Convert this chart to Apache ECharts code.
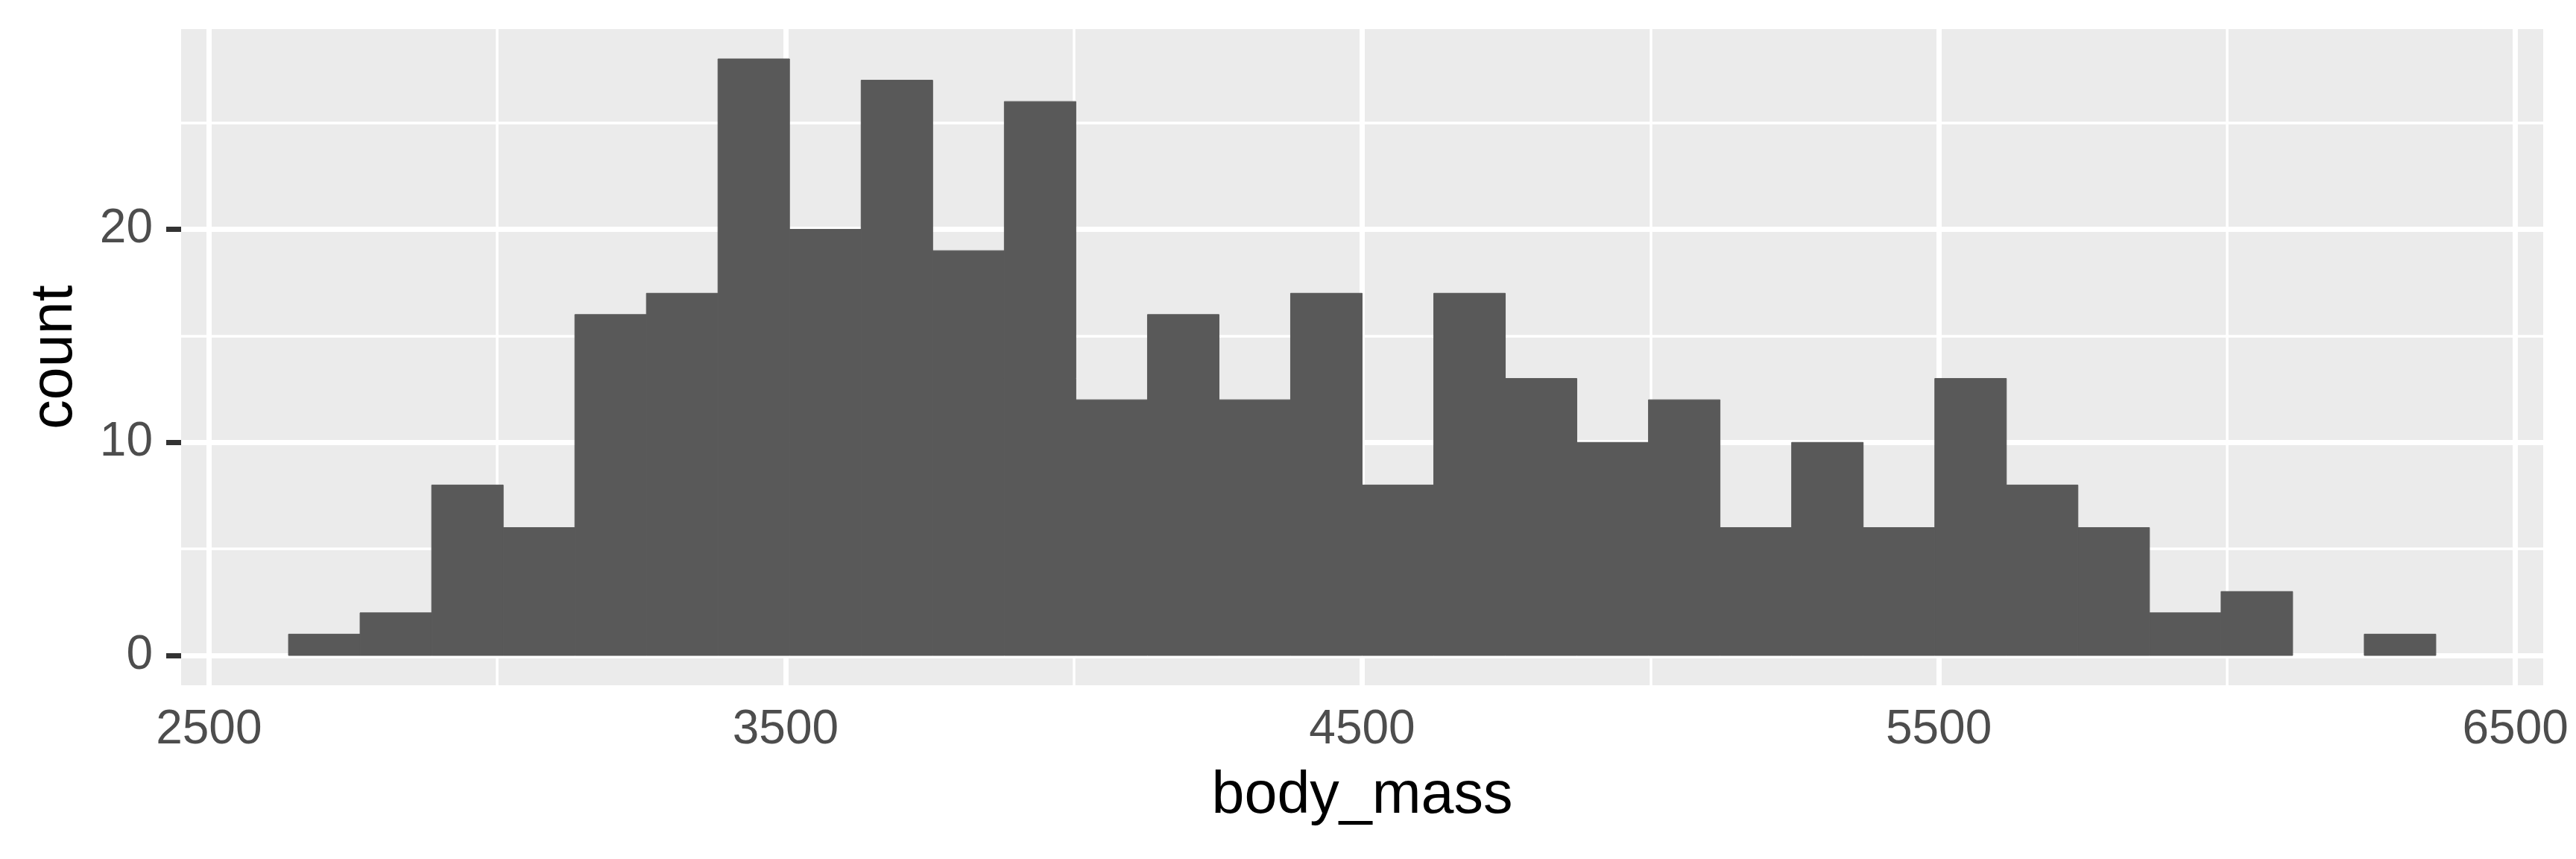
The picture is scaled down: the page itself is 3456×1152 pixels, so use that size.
<!DOCTYPE html>
<html>
<head>
<meta charset="utf-8">
<title>body_mass histogram</title>
<script src="https://cdn.jsdelivr.net/npm/echarts@6/dist/echarts.min.js"></script>
<style>
  html, body { margin: 0; padding: 0; background: #fff; }
  #main { width: 3456px; height: 1152px; }
</style>
</head>
<body>
<div id="main"></div>
<script>
// bin centres (ggplot default 30 bins) and counts
var binCenters = [2700.0, 2824.1, 2948.3, 3072.4, 3196.6, 3320.7, 3444.8, 3569.0, 3693.1, 3817.2,
                  3941.4, 4065.5, 4189.7, 4313.8, 4437.9, 4562.1, 4686.2, 4810.3, 4934.5, 5058.6,
                  5182.8, 5306.9, 5431.0, 5555.2, 5679.3, 5803.4, 5927.6, 6051.7, 6175.9, 6300.0];
var counts = [1, 2, 8, 6, 16, 17, 28, 20, 27, 19,
              26, 12, 16, 12, 17, 8, 17, 13, 10, 12,
              6, 10, 6, 13, 8, 6, 2, 3, 0, 1];

// tick values
var xMajor = [2500, 3500, 4500, 5500, 6500];
var xMinor = [3000, 4000, 5000, 6000];
var yMajor = [0, 10, 20];
var yMinor = [5, 15, 25];

var binWidth = binCenters[1] - binCenters[0];

var data = [];
for (var i = 0; i < binCenters.length; i++) {
    data.push([binCenters[i], counts[i]]);
}

// white panel grid, major lines thicker than minor ones
var gridLines = [];
xMajor.forEach(function (v) { gridLines.push({xAxis: v, lineStyle: {width: 7}}); });
xMinor.forEach(function (v) { gridLines.push({xAxis: v, lineStyle: {width: 3.5}}); });
yMajor.forEach(function (v) { gridLines.push({yAxis: v, lineStyle: {width: 7}}); });
yMinor.forEach(function (v) { gridLines.push({yAxis: v, lineStyle: {width: 3.5}}); });

var font = 'Liberation Sans, Arial, sans-serif';

var app = echarts.init(document.getElementById('main'));

var option = {
    animation: false,
    backgroundColor: '#ffffff',
    grid: {
        left: 243,
        right: 44,
        top: 39,
        bottom: 233,
        show: true,
        backgroundColor: '#EBEBEB',
        borderWidth: 0
    },
    xAxis: {
        type: 'value',
        min: 2451.7,
        max: 6548.3,
        name: 'body_mass',
        nameLocation: 'middle',
        nameGap: 110,
        nameTextStyle: {color: '#000', fontSize: 79, fontFamily: font},
        axisLine: {show: false},
        axisTick: {
            show: true,
            customValues: xMajor,
            length: 20,
            lineStyle: {color: '#333333', width: 7}
        },
        axisLabel: {
            customValues: xMajor,
            margin: 28,
            color: '#4D4D4D',
            fontSize: 64,
            fontFamily: font,
            formatter: function (v) { return String(v); }
        },
        splitLine: {show: false}
    },
    yAxis: {
        type: 'value',
        min: -1.4,
        max: 29.4,
        name: 'count',
        nameLocation: 'middle',
        nameGap: 129,
        nameTextStyle: {color: '#000', fontSize: 79, fontFamily: font},
        axisLine: {show: false},
        axisTick: {
            show: true,
            customValues: yMajor,
            length: 20,
            lineStyle: {color: '#333333', width: 7}
        },
        axisLabel: {
            customValues: yMajor,
            margin: 38,
            color: '#4D4D4D',
            fontSize: 64,
            fontFamily: font,
            formatter: function (v) { return String(v); }
        },
        splitLine: {show: false}
    },
    series: [
        {
            // panel grid lines
            type: 'line',
            data: [],
            silent: true,
            z: 1,
            markLine: {
                silent: true,
                z: 1,
                symbol: ['none', 'none'],
                label: {show: false},
                lineStyle: {color: '#FFFFFF', type: 'solid'},
                emphasis: {disabled: true},
                data: gridLines
            }
        },
        {
            type: 'custom',
            z: 3,
            renderItem: function (params, api) {
                var c = api.value(0);
                var n = api.value(1);
                if (n <= 0) {
                    return null;
                }
                var p0 = api.coord([c - binWidth / 2, n]);
                var p1 = api.coord([c + binWidth / 2, 0]);
                return {
                    type: 'rect',
                    shape: {x: p0[0], y: p0[1], width: p1[0] - p0[0], height: p1[1] - p0[1]},
                    style: {fill: '#595959', stroke: '#595959', lineWidth: 1}
                };
            },
            encode: {x: 0, y: 1},
            data: data
        }
    ]
};

app.setOption(option);
</script>
</body>
</html>
